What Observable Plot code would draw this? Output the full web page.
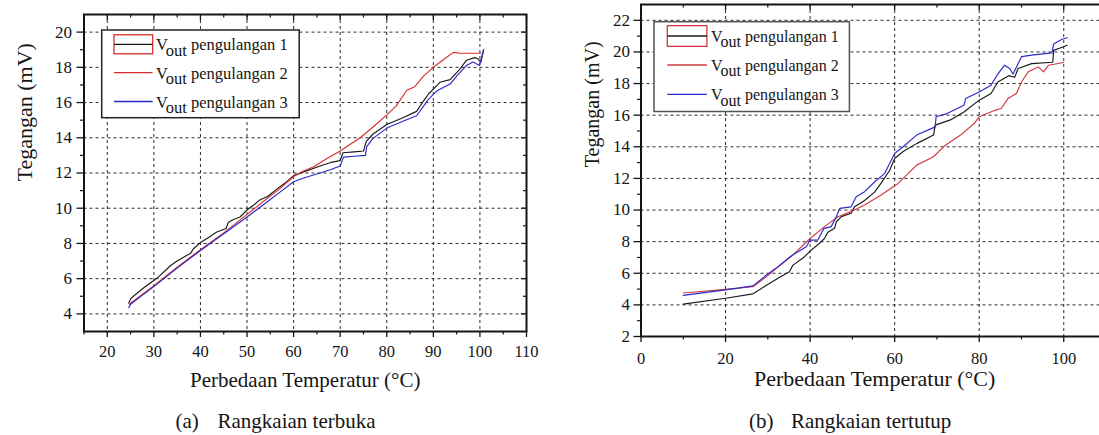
<!DOCTYPE html>
<html><head><meta charset="utf-8">
<script src="https://cdn.jsdelivr.net/npm/d3@7"></script>
<script src="https://cdn.jsdelivr.net/npm/@observablehq/plot@0.6"></script>
<style>
html,body{margin:0;padding:0;background:#fff;overflow:hidden;}
#wrap{position:relative;width:1099px;height:435px;overflow:hidden;background:#fff;}
#wrap > svg{position:absolute;}
</style></head><body><div id="wrap"></div>
<script>
// ---------- DATA: (a) Rangkaian terbuka ----------
const rep1A = [[24.6,4.6],[25.0,4.85],[25.6,5.0],[27.9,5.5],[30,5.9],[31,6.1],[33.6,6.75],[35,7.0],[37.9,7.45],[38.5,7.7],[40,8.05],[41.5,8.3],[43.5,8.65],[45.5,8.85],[46,9.2],[47,9.35],[48.5,9.5],[50,9.9],[51.5,10.2],[52.9,10.5],[54.3,10.65],[56,11.0],[58,11.4],[60,11.85],[62,12.05],[65.7,12.4],[68,12.6],[70,12.7],[70.6,13.15],[73,13.2],[75,13.25],[75.6,13.8],[77,14.2],[80,14.75],[83.6,15.15],[86.4,15.5],[87.9,16.1],[89,16.5],[90.7,16.95],[91.4,17.15],[93.6,17.3],[95.7,17.9],[97.1,18.4],[98.9,18.55],[99.5,18.5],[100.2,18.3],[100.8,19.0]];
const rep2A = [[24.8,4.5],[25,4.6],[27,5.0],[30,5.6],[35,6.65],[40,7.65],[45,8.6],[50,9.65],[54.3,10.55],[57,11.1],[60,11.8],[62,12.1],[64.3,12.35],[67,12.8],[70,13.25],[72,13.6],[74.3,14.0],[77,14.6],[80,15.3],[82,15.8],[84.3,16.7],[86,16.9],[87.9,17.5],[90,18.0],[92,18.4],[94.3,18.85],[95.7,18.8],[100.2,18.8]];
const rep3A = [[24.6,4.35],[25,4.55],[27,4.95],[30,5.55],[35,6.6],[40,7.6],[45,8.55],[50,9.5],[54.3,10.35],[57,10.9],[60,11.5],[62,11.7],[65.7,12.0],[68,12.2],[70,12.4],[70.7,12.9],[73,12.95],[75.4,13.0],[75.7,13.5],[77,13.95],[80,14.55],[83.6,14.95],[86.4,15.25],[87.9,15.8],[89,16.2],[90.7,16.65],[93.6,17.05],[95,17.5],[97.1,18.1],[98.5,18.3],[99.9,18.1],[100.8,19.0]];
const xDomainA = [15, 110], yDomainA = [3, 21];
const xMajA = [20,30,40,50,60,70,80,90,100,110];
const xMinA = [15,25,35,45,55,65,75,85,95,105];
const yMajA = [4,6,8,10,12,14,16,18,20];
const yMinA = [5,7,9,11,13,15,17,19];
const xGridA = [20,30,40,50,60,70,80,90,100];
const yGridA = [4,6,8,10,12,14,16,18,20];

// ---------- DATA: (b) Rangkaian tertutup ----------
const rep1B = [[10,4.05],[20,4.42],[26.5,4.7],[29.2,5.16],[32.4,5.68],[35.1,6.1],[35.9,6.5],[38.7,7.05],[40,7.4],[41.8,7.8],[43.4,8.2],[44.2,8.6],[45.8,8.84],[46.2,9.26],[47.4,9.58],[49.7,9.8],[50.5,10.2],[52.9,10.6],[55.3,11.15],[56.8,11.7],[58.8,12.5],[60,13.26],[62,13.7],[65.2,14.2],[69.2,14.74],[69.6,15.37],[73.2,15.7],[76.4,16.2],[80,16.95],[82.8,17.37],[84.4,18.1],[87,18.5],[88.4,18.4],[89.2,18.95],[92.4,19.26],[97.4,19.35],[97.6,20.1],[99.6,20.3],[100.8,20.42]];
const rep2B = [[10,4.75],[20,4.98],[26.5,5.15],[29.2,5.68],[32.4,6.4],[35.5,7.05],[40,8.2],[43.4,8.95],[46.6,9.58],[49.7,9.9],[52.9,10.32],[56.8,10.95],[60.8,11.68],[65.2,12.84],[69.2,13.37],[72,14.1],[75.6,14.74],[78.8,15.47],[80,15.9],[83.6,16.3],[85.2,16.42],[86.8,17.05],[88.8,17.37],[90,18.1],[91.6,18.74],[94,19.05],[95.2,18.74],[96.4,19.16],[100,19.33]];
const rep3B = [[10,4.6],[20,4.95],[26.5,5.2],[29.2,5.79],[32.4,6.42],[35.5,7.09],[39.1,7.68],[40,8.1],[41.8,8.1],[43.3,8.84],[45,8.95],[46.2,9.58],[47,10.1],[49.7,10.2],[50.9,10.84],[52.9,11.16],[55.3,11.79],[57.6,12.3],[58.8,12.95],[60,13.58],[62,14.0],[65.2,14.74],[69.6,15.26],[69.8,15.9],[72.4,16.1],[74.8,16.42],[76.4,16.63],[76.8,17.05],[80,17.47],[82.8,17.9],[84.4,18.6],[86,19.16],[87.2,18.95],[88,18.6],[89.2,19.26],[90,19.7],[92.4,19.8],[97.2,19.94],[97.6,20.5],[99.6,20.8],[100.8,20.9]];
const xDomainB = [0, 120], yDomainB = [2, 23];
const xMajB = [0,20,40,60,80,100];
const xMinB = [10,30,50,70,90];
const yMajB = [2,4,6,8,10,12,14,16,18,20,22];
const yMinB = [3,5,7,9,11,13,15,17,19,21];
const xGridB = [20,40,60,80,100];
const yGridB = [4,6,8,10,12,14,16,18,20,22];

// ---------- TEXT ----------
const seriesNames = ["pengulangan 1","pengulangan 2","pengulangan 3"];
const yLabel = "Tegangan (mV)";
const xLabel = "Perbedaan Temperatur (°C)";
const captionA = ["(a)", "Rangkaian terbuka"];
const captionB = ["(b)", "Rangkaian tertutup"];

const FONT = "'Times New Roman', Times, 'Liberation Serif', Tinos, 'DejaVu Serif', 'Noto Serif', serif";
const INK = "#151515";
const colorsA = ["#1a1a1a", "#d92e2c", "#2828c8"];
const colorsB = ["#1a1a1a", "#cf3a42", "#2a2acb"];
const toRows = (arr, s) => arr.map(([x, y]) => ({x, y, s}));

function makeChart(cfg) {
  const innerW = cfg.width - cfg.ml - cfg.mr;
  const innerH = cfg.height - cfg.mt - cfg.mb;
  const rows = cfg.series.flatMap((a, i) => toRows(a, i));
  return Plot.plot({
    width: cfg.width, height: cfg.height,
    marginLeft: cfg.ml, marginRight: cfg.mr, marginTop: cfg.mt, marginBottom: cfg.mb,
    style: {fontFamily: FONT, background: "transparent", color: INK, overflow: "visible"},
    x: {domain: cfg.xDomain, label: null},
    y: {domain: cfg.yDomain, label: null},
    marks: [
      Plot.gridX(cfg.xGrid, {stroke: INK, strokeOpacity: 0.9, strokeWidth: 1, strokeDasharray: "3,3"}),
      Plot.gridY(cfg.yGrid, {stroke: INK, strokeOpacity: 0.9, strokeWidth: 1, strokeDasharray: "3,3"}),
      ...[0,1,2].map(i => Plot.line(rows.filter(d => d.s === i), {x: "x", y: "y", stroke: cfg.colors[i], strokeWidth: 1.15})),
      Plot.frame({stroke: INK, strokeWidth: 2}),
      Plot.axisX(cfg.xMaj, {anchor: "bottom", tickSize: 6, tickPadding: cfg.xPad, fontSize: 16.5, fontFamily: FONT, label: null, stroke: INK, strokeWidth: 1.3}),
      Plot.axisX(cfg.xMin, {anchor: "bottom", tickSize: 3.5, tickFormat: () => "", label: null, stroke: INK, strokeWidth: 1.2}),
      Plot.axisY(cfg.yMaj, {anchor: "left", tickSize: 7, tickPadding: cfg.yPad, fontSize: 17, fontFamily: FONT, label: null, stroke: INK, strokeWidth: 1.3}),
      Plot.axisY(cfg.yMin, {anchor: "left", tickSize: 3.5, tickFormat: () => "", label: null, stroke: INK, strokeWidth: 1.2}),
      Plot.tickX(cfg.xMaj, {x: d => d, insetBottom: innerH - 6, stroke: INK, strokeWidth: 1.3}),
      Plot.tickX(cfg.xMin, {x: d => d, insetBottom: innerH - 3.5, stroke: INK, strokeWidth: 1.2}),
      Plot.tickY(cfg.yMaj, {y: d => d, insetLeft: innerW - 5, stroke: INK, strokeWidth: 1.3}),
      Plot.tickY(cfg.yMin, {y: d => d, insetLeft: innerW - 3, stroke: INK, strokeWidth: 1.2}),
      Plot.text([yLabel], {text: d => d, frameAnchor: "left", rotate: -90, dx: cfg.ylDx, dy: cfg.ylDy, fontSize: cfg.ylSize, fontFamily: FONT, fill: INK}),
      Plot.text([xLabel], {text: d => d, frameAnchor: "bottom", dx: cfg.xlDx, dy: cfg.xlDy, fontSize: cfg.xlSize, fontFamily: FONT, fill: INK})
    ]
  });
}

const wrap = document.getElementById("wrap");

const chartA = makeChart({
  width: 549, height: 405, ml: 83.5, mr: 23, mt: 14, mb: 74,
  xDomain: xDomainA, yDomain: yDomainA, xMaj: xMajA, xMin: xMinA, yMaj: yMajA, yMin: yMinA,
  xGrid: xGridA, yGrid: yGridA, series: [rep1A, rep2A, rep3A], colors: colorsA,
  xPad: 8, yPad: 5, ylDx: -59.5, ylDy: 8.5, ylSize: 22, xlDx: 0, xlDy: 55, xlSize: 21
});
chartA.style.left = "0px"; chartA.style.top = "0px";
wrap.appendChild(chartA);

const chartB = makeChart({
  width: 620, height: 405, ml: 91.5, mr: 21.2, mt: 4, mb: 69,
  xDomain: xDomainB, yDomain: yDomainB, xMaj: xMajB, xMin: xMinB, yMaj: yMajB, yMin: yMinB,
  xGrid: xGridB, yGrid: yGridB, series: [rep1B, rep2B, rep3B], colors: colorsB,
  xPad: 9.5, yPad: 4, ylDx: -48.5, ylDy: -3.3, ylSize: 20, xlDx: -20, xlDy: 49.2, xlSize: 22
});
chartB.style.left = "549px"; chartB.style.top = "0px";
wrap.appendChild(chartB);

// ---------- Legends & captions overlay ----------
const ov = d3.select(wrap).append("svg")
  .attr("width", 1099).attr("height", 435)
  .style("left", "0px").style("top", "0px").style("pointer-events", "none")
  .style("font-family", FONT).attr("fill", INK);

function legend(g, o) {
  g.append("rect").attr("x", o.x).attr("y", o.y).attr("width", o.w).attr("height", o.h)
    .attr("fill", "#fff").attr("stroke", o.border).attr("stroke-width", 1.5);
  o.rows.forEach((ry, i) => {
    if (i === 0) {
      g.append("rect").attr("x", o.sx0).attr("y", ry - o.boxH / 2).attr("width", o.sx1 - o.sx0).attr("height", o.boxH)
        .attr("fill", "none").attr("stroke", o.colors[1]).attr("stroke-width", 1.3);
    }
    g.append("line").attr("x1", o.sx0).attr("x2", o.sx1).attr("y1", ry).attr("y2", ry)
      .attr("stroke", o.colors[i]).attr("stroke-width", 1.3);
    const t = g.append("text").attr("x", o.tx).attr("y", ry + o.base).attr("font-size", o.fs).style("white-space", "pre");
    t.append("tspan").text("V");
    t.append("tspan").attr("dy", 5.5).text("out");
    t.append("tspan").attr("dy", -5.5).text(" " + seriesNames[i]);
  });
}
legend(ov.append("g"), {x: 101.7, y: 30, w: 197.5, h: 87.7, border: "#222", rows: [44.3, 72.7, 101.5],
  sx0: 114, sx1: 152.6, boxH: 19, tx: 156, base: 6, fs: 16.5, colors: colorsA});
legend(ov.append("g"), {x: 654, y: 21.7, w: 195.4, h: 89.8, border: "#555", rows: [36, 65, 94.3],
  sx0: 667.3, sx1: 706.9, boxH: 20.7, tx: 711, base: 5.7, fs: 16, colors: colorsB});

function caption(c, x0, x1) {
  ov.append("text").attr("x", x0).attr("y", 428).attr("font-size", 21).text(c[0]);
  ov.append("text").attr("x", x1).attr("y", 428).attr("font-size", 21).text(c[1]);
}
caption(captionA, 175.4, 217.5);
caption(captionB, 748.9, 790.9);
</script></body></html>
